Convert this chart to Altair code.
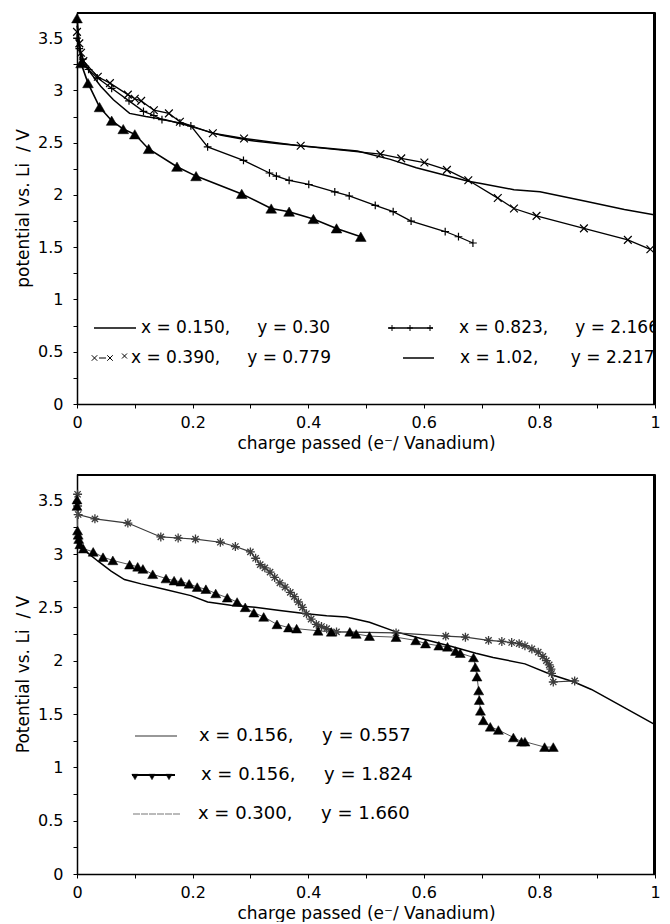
import altair as alt
import pandas as pd

FONT = "DejaVu Sans"
NB = "\u00a0"

# ---------------- top panel series (charge passed, potential) ----------------
tri150_x = [0.000, 0.007, 0.019, 0.039, 0.060, 0.080, 0.100, 0.124, 0.173, 0.206,
            0.285, 0.336, 0.367, 0.409, 0.449, 0.491]
tri150_y = [3.69, 3.26, 3.07, 2.84, 2.71, 2.63, 2.58, 2.44, 2.27, 2.18,
            2.01, 1.87, 1.84, 1.77, 1.68, 1.60]

x390_x = [0.000, 0.004, 0.007, 0.011, 0.036, 0.057, 0.088, 0.100, 0.111, 0.133,
          0.159, 0.178, 0.235, 0.289, 0.387, 0.525, 0.561, 0.601, 0.640, 0.677,
          0.728, 0.756, 0.795, 0.877, 0.953, 0.992]
x390_y = [3.56, 3.45, 3.36, 3.28, 3.13, 3.07, 2.96, 2.92, 2.90, 2.81,
          2.78, 2.70, 2.59, 2.54, 2.47, 2.39, 2.35, 2.31, 2.24, 2.14,
          1.97, 1.87, 1.80, 1.68, 1.57, 1.48]

p823_x = [0.000, 0.004, 0.010, 0.020, 0.035, 0.060, 0.090, 0.115, 0.133, 0.147,
          0.178, 0.197, 0.226, 0.288, 0.333, 0.345, 0.367, 0.401, 0.446, 0.471,
          0.516, 0.547, 0.578, 0.637, 0.660, 0.685]
p823_y = [3.50, 3.40, 3.30, 3.20, 3.12, 3.02, 2.90, 2.80, 2.76, 2.72,
          2.69, 2.66, 2.46, 2.33, 2.21, 2.18, 2.14, 2.10, 2.03, 1.99,
          1.90, 1.84, 1.75, 1.65, 1.60, 1.54]

l102_x = [0.000, 0.005, 0.012, 0.041, 0.063, 0.091, 0.119, 0.153, 0.187, 0.250,
          0.300, 0.350, 0.429, 0.485, 0.542, 0.587, 0.677, 0.699, 0.756, 0.801,
          0.880, 0.947, 0.998]
l102_y = [3.62, 3.40, 3.25, 3.04, 2.91, 2.78, 2.75, 2.72, 2.67, 2.57,
          2.52, 2.49, 2.45, 2.42, 2.34, 2.26, 2.13, 2.11, 2.05, 2.03,
          1.94, 1.86, 1.81]

# ---------------- bottom panel series ----------------
l557_x = [0.000, 0.004, 0.014, 0.037, 0.059, 0.082, 0.111, 0.151, 0.197, 0.226,
          0.266, 0.308, 0.351, 0.397, 0.432, 0.466, 0.506, 0.552, 0.600, 0.650,
          0.690, 0.720, 0.775, 0.820, 0.860, 0.890, 0.947, 1.000]
l557_y = [3.12, 3.06, 3.03, 2.93, 2.84, 2.76, 2.72, 2.67, 2.61, 2.55,
          2.52, 2.50, 2.47, 2.44, 2.42, 2.41, 2.36, 2.27, 2.20, 2.13,
          2.07, 2.03, 1.97, 1.87, 1.80, 1.73, 1.56, 1.40]

tri1824_x = [0.000, 0.000, 0.001, 0.002, 0.003, 0.005, 0.011, 0.028, 0.045, 0.062,
             0.091, 0.105, 0.114, 0.131, 0.154, 0.168, 0.180, 0.194, 0.208, 0.223,
             0.240, 0.260, 0.277, 0.291, 0.306, 0.323, 0.346, 0.366, 0.380, 0.417,
             0.440, 0.472, 0.483, 0.506, 0.552, 0.586, 0.603, 0.626, 0.641, 0.655,
             0.663, 0.686, 0.689, 0.692, 0.695, 0.696, 0.698, 0.703, 0.715, 0.729,
             0.755, 0.769, 0.775, 0.809, 0.824]
tri1824_y = [3.51, 3.45, 3.22, 3.18, 3.14, 3.09, 3.05, 3.02, 2.97, 2.94,
             2.90, 2.88, 2.86, 2.81, 2.77, 2.75, 2.74, 2.72, 2.69, 2.67,
             2.63, 2.59, 2.55, 2.50, 2.45, 2.41, 2.34, 2.31, 2.30, 2.28,
             2.27, 2.27, 2.25, 2.23, 2.22, 2.19, 2.16, 2.14, 2.13, 2.09,
             2.07, 2.03, 1.94, 1.85, 1.72, 1.63, 1.53, 1.44, 1.38, 1.35,
             1.28, 1.24, 1.24, 1.19, 1.19]

s300_x = [0.001, 0.001, 0.002, 0.031, 0.088, 0.145, 0.175, 0.205, 0.248, 0.274,
          0.300, 0.309, 0.317, 0.325, 0.334, 0.342, 0.351, 0.360, 0.369, 0.376,
          0.383, 0.390, 0.397, 0.405, 0.414, 0.423, 0.432, 0.449, 0.552, 0.638,
          0.672, 0.712, 0.735, 0.752, 0.765, 0.775, 0.787, 0.798, 0.806, 0.812,
          0.817, 0.820, 0.821, 0.824, 0.861]
s300_y = [3.56, 3.45, 3.37, 3.33, 3.29, 3.16, 3.15, 3.14, 3.11, 3.07,
          3.02, 2.96, 2.90, 2.87, 2.83, 2.78, 2.73, 2.69, 2.64, 2.60,
          2.55, 2.50, 2.44, 2.39, 2.34, 2.32, 2.30, 2.27, 2.26, 2.23,
          2.22, 2.19, 2.18, 2.17, 2.16, 2.14, 2.11, 2.08, 2.04, 2.00,
          1.96, 1.92, 1.88, 1.80, 1.81]

# ---------------- axes / text ----------------
X_TICKS = [0, 0.1, 0.2, 0.3, 0.4, 0.5, 0.6, 0.7, 0.8, 0.9, 1]
Y_TICKS = [0, 0.25, 0.5, 0.75, 1, 1.25, 1.5, 1.75, 2, 2.25, 2.5, 2.75, 3, 3.25, 3.5]
X_TITLE = "charge passed (e⁻/ Vanadium)"
TOP_Y_TITLE = "potential vs. Li" + NB + " / V"
BOT_Y_TITLE = "Potential vs. Li" + NB + " / V"

top_leg_x = ["x = 0.150,", "x = 0.823,", "x = 0.390,", "x = 1.02,"]
top_leg_y = ["y = 0.30", "y = 2.166", "y = 0.779", "y = 2.217"]
bot_leg_x = ["x = 0.156,", "x = 0.156,", "x = 0.300,"]
bot_leg_y = ["y = 0.557", "y = 1.824", "y = 1.660"]

CROSS = "M-1,-1L1,1M-1,1L1,-1"
PLUS = "M-1,0L1,0M0,-1L0,1"
STAR = "M-1,0L1,0M0,-1L0,1M-0.7,-0.7L0.7,0.7M-0.7,0.7L0.7,-0.7"

PANEL_W = 578
TOP_H = 392
BOT_H = 400

FRAME_COLOR = "#000000"


def x_enc(title):
    return alt.X("x:Q", scale=alt.Scale(domain=[0, 1], nice=False, zero=False),
                 axis=alt.Axis(values=X_TICKS, title=title,
                               labelExpr="round(datum.value*10) % 2 == 0 ? format(datum.value, '~g') : ''",
                               tickSize=4, labelPadding=6, labelFlush=False, labelOverlap=False,
                               grid=False, domainColor="black", domainWidth=1.5,
                               tickColor="black", labelColor="black", titleColor="black",
                               labelFont=FONT, titleFont=FONT, labelFontSize=16,
                               titleFontSize=17, titleFontWeight="normal", titlePadding=5))


def y_enc(title):
    return alt.Y("y:Q", scale=alt.Scale(domain=[0, 3.75], nice=False, zero=False),
                 axis=alt.Axis(values=Y_TICKS, title=title,
                               labelExpr="round(datum.value*4) % 2 == 0 ? format(datum.value, '~g') : ''",
                               tickSize=4, labelPadding=10, labelOverlap=False,
                               grid=False, domainColor="black", domainWidth=1.5,
                               tickColor="black", labelColor="black", titleColor="black",
                               labelFont=FONT, titleFont=FONT, labelFontSize=16,
                               titleFontSize=17, titleFontWeight="normal", titlePadding=5))


def series(xs, ys, xe, ye, line_color, line_width, marker=None, msize=64,
           mcolor="black", filled=False, mwidth=1.2):
    df = pd.DataFrame({"x": xs, "y": ys, "i": list(range(len(xs)))})
    out = [alt.Chart(df).mark_line(color=line_color, strokeWidth=line_width)
           .encode(x=xe, y=ye, order="i:Q")]
    if marker is not None:
        if filled:
            pm = alt.Chart(df).mark_point(shape=marker, filled=True, fill=mcolor,
                                          stroke=mcolor, strokeWidth=0.5, size=msize, opacity=1)
        else:
            pm = alt.Chart(df).mark_point(shape=marker, filled=False, stroke=mcolor,
                                          strokeWidth=mwidth, size=msize, opacity=1)
        out.append(pm.encode(x=xe, y=ye))
    return out


ONE = pd.DataFrame({"k": [0]})


def leg_rule(x1, x2, y, color="black", width=1.5, dash=None):
    kw = dict(color=color, strokeWidth=width)
    if dash:
        kw["strokeDash"] = dash
    return alt.Chart(ONE).mark_rule(**kw).encode(x=alt.value(x1), x2=alt.value(x2), y=alt.value(y))


def frame(w, h):
    # top and right borders of the plot box
    top_edge = alt.Chart(ONE).mark_rule(color=FRAME_COLOR, strokeWidth=2, opacity=1).encode(
        x=alt.value(0), x2=alt.value(w), y=alt.value(1))
    right_edge = alt.Chart(ONE).mark_rule(color=FRAME_COLOR, strokeWidth=2, opacity=1).encode(
        x=alt.value(w - 1), y=alt.value(0), y2=alt.value(h))
    return [top_edge, right_edge]


def leg_point(x, y, shape, size, filled=False, color="black"):
    if filled:
        m = alt.Chart(ONE).mark_point(shape=shape, filled=True, fill=color, stroke=color,
                                      strokeWidth=0.5, size=size, opacity=1)
    else:
        m = alt.Chart(ONE).mark_point(shape=shape, filled=False, stroke=color,
                                      strokeWidth=1, size=size, opacity=1)
    return m.encode(x=alt.value(x), y=alt.value(y))


def leg_text(x, y, label, size=18):
    df = pd.DataFrame({"t": [label]})
    return alt.Chart(df).mark_text(align="left", baseline="middle", font=FONT, fontSize=size,
                                   color="black", clip=True).encode(
        x=alt.value(x), y=alt.value(y), text="t:N")


# ---------------- top panel ----------------
xt, yt = x_enc(X_TITLE), y_enc(TOP_Y_TITLE)
top_layers = []
top_layers += series(l102_x, l102_y, xt, yt, "black", 1.5)
top_layers += series(p823_x, p823_y, xt, yt, "black", 1.3, PLUS, 60)
top_layers += series(x390_x, x390_y, xt, yt, "black", 1.3, CROSS, 60)
top_layers += series(tri150_x, tri150_y, xt, yt, "black", 1.6, "triangle-up", 115, filled=True)
top_layers += frame(PANEL_W, TOP_H)

top_layers += [
    leg_rule(17, 59, 316),
    leg_text(64, 316, top_leg_x[0] + NB * 5 + top_leg_y[0], 17),
    leg_rule(311, 356, 316, width=1.3),
    leg_point(315, 316, PLUS, 36), leg_point(333, 316, PLUS, 36), leg_point(353, 316, PLUS, 36),
    leg_text(382, 316, top_leg_x[1] + NB * 5 + top_leg_y[1], 17),
    leg_point(17.5, 346, CROSS, 30), leg_rule(22, 29, 346, width=1),
    leg_point(33, 346, CROSS, 30), leg_point(47.5, 344, CROSS, 25),
    leg_text(54, 346, top_leg_x[2] + NB * 5 + top_leg_y[2], 17),
    leg_rule(326, 357, 346),
    leg_text(383, 346, top_leg_x[3] + NB * 6 + top_leg_y[3], 17),
]
top = alt.layer(*top_layers).properties(width=PANEL_W, height=TOP_H)

# ---------------- bottom panel ----------------
xb, yb = x_enc(X_TITLE), y_enc(BOT_Y_TITLE)
bot_layers = []
bot_layers += series(l557_x, l557_y, xb, yb, "black", 1.5)
bot_layers += series(s300_x, s300_y, xb, yb, "#3a3a3a", 1.2, STAR, 80, mcolor="#3c3c3c", mwidth=1.3)
bot_layers += series(tri1824_x, tri1824_y, xb, yb, "#555555", 1.0, "triangle-up", 100, filled=True)
bot_layers += frame(PANEL_W, BOT_H)

bot_layers += [
    leg_rule(58, 100, 262, color="#333333", width=1.2),
    leg_text(122, 262, bot_leg_x[0] + NB * 5 + bot_leg_y[0]),
    leg_rule(55, 98, 301, width=2),
    leg_point(58, 303, "triangle-down", 40, filled=True),
    leg_point(75, 303, "triangle-down", 40, filled=True),
    leg_point(92, 303, "triangle-down", 40, filled=True),
    leg_text(124, 301, bot_leg_x[1] + NB * 5 + bot_leg_y[1]),
    leg_rule(56, 103, 340, color="#777777", width=1.2, dash=[7, 1]),
    leg_text(121, 340, bot_leg_x[2] + NB * 5 + bot_leg_y[2]),
]
bottom = alt.layer(*bot_layers).properties(width=PANEL_W, height=BOT_H)

chart = alt.vconcat(top, bottom, spacing=20).properties(
    padding={"left": 6, "top": 2, "right": 0, "bottom": 0},
    background="white",
).configure_view(stroke="#000000", strokeWidth=1)

chart.save("out.html", embed_options={"renderer": "svg", "actions": False})
